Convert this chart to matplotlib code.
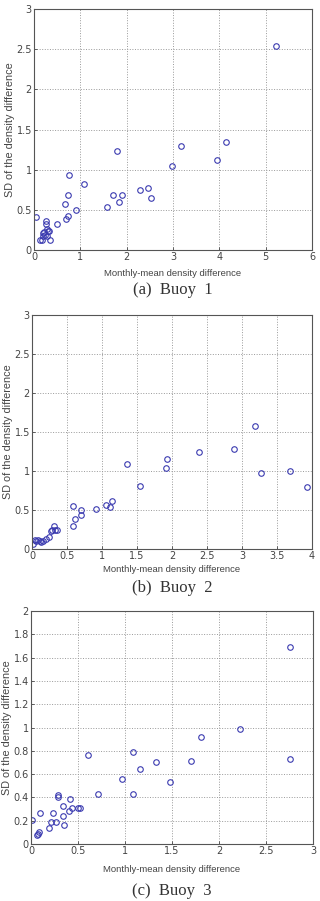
import numpy as np
import matplotlib
matplotlib.use('Agg')
import matplotlib.pyplot as plt

# buoy 1
x1 = [0.04, 0.12, 0.18, 0.22, 0.26, 0.26, 0.27, 0.31, 0.33, 0.35, 0.24, 0.20, 0.19, 0.27,
      0.50, 0.68, 0.67, 0.74, 0.74, 0.76, 0.91, 1.08, 1.58, 1.70, 1.79, 1.83, 1.90,
      2.29, 2.47, 2.52, 2.98, 3.17, 3.96, 4.14, 5.23]
y1 = [0.41, 0.12, 0.13, 0.22, 0.36, 0.32, 0.26, 0.24, 0.24, 0.13, 0.19, 0.21, 0.17, 0.17,
      0.32, 0.38, 0.57, 0.42, 0.69, 0.93, 0.50, 0.82, 0.53, 0.68, 1.23, 0.60, 0.69,
      0.75, 0.77, 0.65, 1.05, 1.30, 1.125, 1.35, 2.54]

# buoy 2
x2 = [0.01, 0.04, 0.09, 0.11, 0.13, 0.15, 0.20, 0.24, 0.27, 0.32, 0.33, 0.35, 0.06, 0.28,
      0.58, 0.59, 0.61, 0.70, 0.70, 0.92, 1.06, 1.11, 1.14, 1.35, 1.54, 1.91, 1.93,
      2.38, 2.89, 3.18, 3.27, 3.69, 3.93]
y2 = [0.065, 0.12, 0.11, 0.10, 0.09, 0.10, 0.13, 0.155, 0.23, 0.29, 0.24, 0.24, 0.10, 0.25,
      0.55, 0.30, 0.38, 0.50, 0.44, 0.51, 0.56, 0.54, 0.61, 1.09, 0.81, 1.04, 1.16,
      1.25, 1.28, 1.58, 0.97, 1.00, 0.80]

# buoy 3
x3 = [0.01, 0.06, 0.07, 0.08, 0.10, 0.19, 0.21, 0.23, 0.27, 0.29, 0.29, 0.34, 0.34, 0.35,
      0.40, 0.42, 0.44, 0.50, 0.52, 0.61, 0.71, 0.97, 1.08, 1.08, 1.16, 1.33, 1.48,
      1.70, 1.81, 2.22, 2.75, 2.76]
y3 = [0.21, 0.08, 0.09, 0.105, 0.27, 0.14, 0.19, 0.27, 0.19, 0.42, 0.40, 0.33, 0.24, 0.16,
      0.285, 0.39, 0.305, 0.305, 0.305, 0.76, 0.43, 0.56, 0.79, 0.43, 0.645, 0.70, 0.53,
      0.71, 0.92, 0.99, 1.69, 0.73]

panels = [
    (x1, y1, 6, 3, np.arange(0, 7, 1), np.arange(0, 3.01, 0.5), '(a)  Buoy  1',
     [34, 9, 312, 250], 273, 290),
    (x2, y2, 4, 3, np.arange(0, 4.01, 0.5), np.arange(0, 3.01, 0.5), '(b)  Buoy  2',
     [32, 315, 312, 549], 570, 588),
    (x3, y3, 3, 2, np.arange(0, 3.01, 0.5), np.arange(0, 2.01, 0.2), '(c)  Buoy  3',
     [31, 611, 313, 844], 869, 891),
]

W, H = 320, 901
fig = plt.figure(figsize=(W / 100, H / 100), dpi=100)

def fmt(v):
    s = ('%.1f' % v).rstrip('0').rstrip('.')
    return s

for x, y, xmax, ymax, xt, yt, cap, box, xl_y, cap_y in panels:
    l, t, r, b = box
    ax = fig.add_axes([l / W, 1 - b / H, (r - l) / W, (b - t) / H])
    ax.plot(x, y, 'o', mfc='none', mec='#3b3bb0', ms=4, mew=0.8)
    ax.set_xlim(0, xmax)
    ax.set_ylim(0, ymax)
    ax.set_xticks(xt)
    ax.set_yticks(yt)
    ax.set_xticklabels([fmt(v) for v in xt])
    ax.set_yticklabels([fmt(v) for v in yt])
    ax.grid(True, linestyle=':', color='#999999', linewidth=0.7)
    ax.tick_params(direction='in', length=2, width=0.6, labelsize=7,
                   colors='#444444', pad=1.5)
    for s in ax.spines.values():
        s.set_linewidth(0.8)
        s.set_color('#555555')
    ax.set_ylabel('SD of the density difference', fontsize=7.8, color='#444444',
                  family='Liberation Sans', labelpad=1)
    fig.text((l + r) / 2 / W, 1 - xl_y / H, 'Monthly-mean density difference',
             ha='center', va='center', fontsize=6.8, color='#444444',
             family='Liberation Sans')
    fig.text((l + r) / 2 / W, 1 - cap_y / H, cap, ha='center', va='center',
             fontsize=12, color='#333333', family='Liberation Serif')

fig.savefig('out.png', dpi=100, facecolor='white')
